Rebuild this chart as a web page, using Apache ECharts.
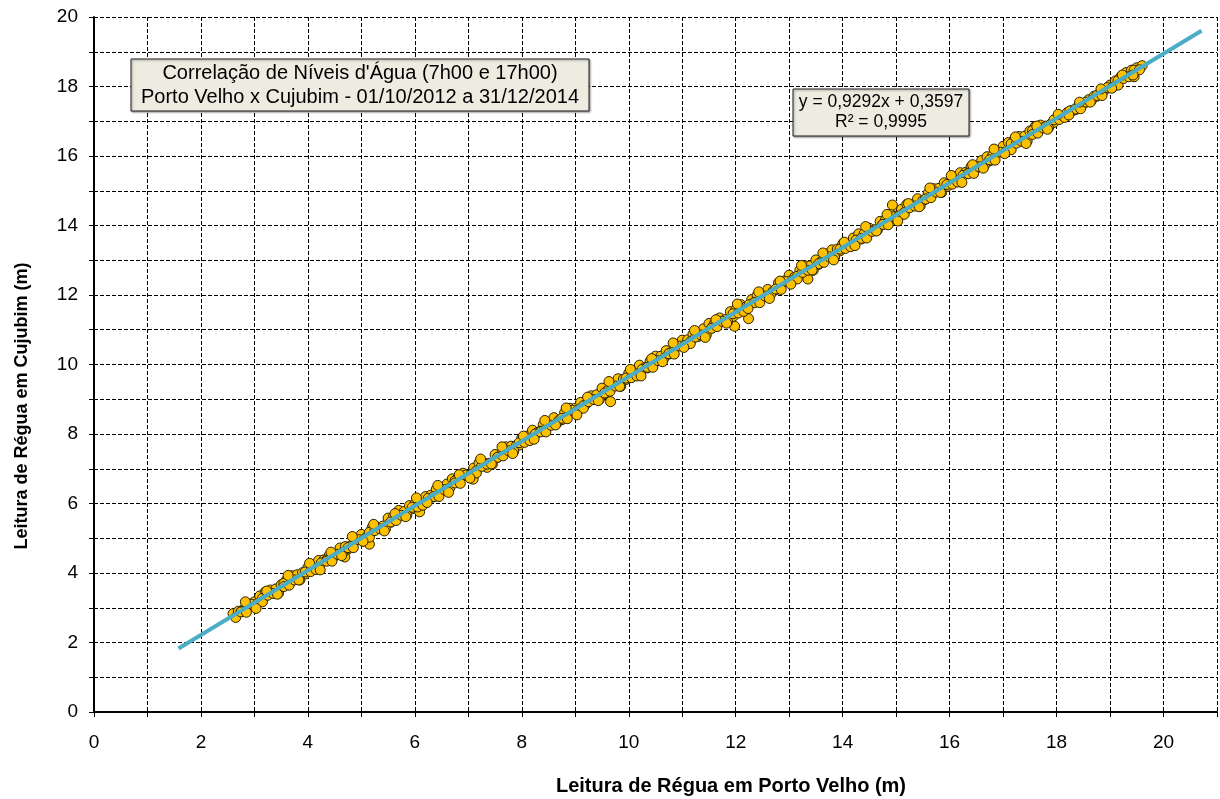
<!DOCTYPE html>
<html>
<head>
<meta charset="utf-8">
<script src="https://cdn.jsdelivr.net/npm/echarts@6/dist/echarts.min.js"></script>
<style>html,body{margin:0;padding:0;background:#fff}#chart{width:1220px;height:799px}</style>
</head>
<body>
<div id="chart"></div>
<script>
// Porto Velho readings (x) and Cujubim readings (y), metres
const portoVelho = [
2.6,2.7,2.8,2.9,3.0,3.1,3.2,3.3,3.4,3.5,
3.6,3.7,3.8,3.9,4.0,4.1,4.2,4.3,4.4,4.5,
4.6,4.7,4.8,4.9,5.0,5.1,5.2,5.3,5.4,5.5,
5.6,5.7,5.8,5.9,6.0,6.1,6.2,6.3,6.4,6.5,
6.6,6.7,6.8,6.9,7.0,7.1,7.2,7.3,7.4,7.5,
7.6,7.7,7.8,7.9,8.0,8.1,8.2,8.3,8.4,8.5,
8.6,8.7,8.8,8.9,9.0,9.1,9.2,9.3,9.4,9.5,
9.6,9.7,9.8,9.9,10.0,10.1,10.2,10.3,10.4,10.5,
10.6,10.7,10.8,10.9,11.0,11.1,11.2,11.3,11.4,11.5,
11.6,11.7,11.8,11.9,12.0,12.1,12.2,12.3,12.4,12.5,
12.6,12.7,12.8,12.9,13.0,13.1,13.2,13.3,13.4,13.5,
13.6,13.7,13.8,13.9,14.0,14.1,14.2,14.3,14.4,14.5,
14.6,14.7,14.8,14.9,15.0,15.1,15.2,15.3,15.4,15.5,
15.6,15.7,15.8,15.9,16.0,16.1,16.2,16.3,16.4,16.5,
16.6,16.7,16.8,16.9,17.0,17.1,17.2,17.3,17.4,17.5,
17.6,17.7,17.8,17.9,18.0,18.1,18.2,18.3,18.4,18.5,
18.6,18.7,18.8,18.9,19.0,19.1,19.2,19.3,19.4,19.5,
19.6,
2.75,3.15,3.55,3.95,4.35,4.75,5.15,5.55,5.95,6.35,
6.75,7.15,7.35,7.55,7.95,8.35,8.75,9.15,9.55,9.95,
10.35,10.75,11.15,11.55,11.95,12.35,12.75,13.15,13.55,13.95,
14.35,14.75,15.15,15.55,15.95,16.35,16.75,17.15,17.55,17.95,
18.35,18.75,19.15,19.45,
9.66,11.98,13.35,12.24,5.15,7.09,4.69,6.09,14.93,
2.65,2.75,2.85,2.95,3.05,3.15,3.25,3.35,3.45,3.55,
3.65,3.75,3.85,3.95,4.05,4.15,4.25,4.35,4.45,4.55,
4.65,4.75,4.85,4.95,5.05,5.15,5.25,5.35,5.45,5.55,
5.65,5.75,5.85,5.95,6.05,6.15,6.25,6.35,6.45,6.55,
6.65,6.75,6.85,6.95,7.05,7.15,7.25,7.35,7.45,7.55,
7.65,7.75,7.85,7.95,8.05,8.15,8.25,8.35,8.45,8.55,
8.65,8.75,8.85,8.95,9.05,9.15,9.25,9.35,9.45,9.55,
9.65,9.75,9.85,9.95,10.05,10.15,10.25,10.35,10.45,10.55,
10.65,10.75,10.85,10.95,11.05,11.15,11.25,11.35,11.45,11.55,
11.65,11.75,11.85,11.95,12.05,12.15,12.25,12.35,12.45,12.55,
12.65,12.75,12.85,12.95,13.05,13.15,13.25,13.35,13.45,13.55,
13.65,13.75,13.85,13.95,14.05,14.15,14.25,14.35,14.45,14.55,
14.65,14.75,14.85,14.95,15.05,15.15,15.25,15.35,15.45,15.55,
15.65,15.75,15.85,15.95,16.05,16.15,16.25,16.35,16.45,16.55,
16.65,16.75,16.85,16.95,17.05,17.15,17.25,17.35,17.45,17.55,
17.65,17.75,17.85,17.95,18.05,18.15,18.25,18.35,18.45,18.55,
18.65,18.75,18.85,18.95,19.05,19.15,19.25,19.35,19.45,19.55,
2.83,3.03,3.23,3.43,3.63,3.83,4.03,4.23,4.43,4.63,
4.83,5.03,5.23,5.43,5.63,5.83,6.03,6.23,6.43,6.63,
6.83,7.03,7.23,7.43,7.63,7.83,8.03,8.23,8.43,8.63,
8.83,9.03,9.23,9.43,9.63,9.83,10.03,10.23,10.43,10.63,
10.83,11.03,11.23,11.43,11.63,11.83,12.03,12.23,12.43,12.63,
12.83,13.03,13.23,13.43,13.63,13.83,14.03,14.23,14.43,14.63,
14.83,15.03,15.23,15.43,15.63,15.83,16.03,16.23,16.43,16.63,
16.83,17.03,17.23,17.43,17.63,17.83,18.03,18.23,18.43,18.63,
18.83,19.03,19.23,19.43
];
const cujubim = [
2.83,2.90,2.96,3.11,3.17,3.34,3.45,3.51,3.54,3.66,
3.80,3.92,3.95,4.01,4.16,4.22,4.36,4.38,4.51,4.49,
4.72,4.76,4.78,4.98,5.11,5.04,5.31,5.32,5.35,5.58,
5.62,5.80,5.77,5.94,5.99,6.01,6.20,6.24,6.41,6.36,
6.56,6.71,6.73,6.87,6.81,7.02,7.17,7.16,7.16,7.41,
7.38,7.63,7.65,7.67,7.88,7.94,8.11,8.05,8.27,8.30,
8.47,8.40,8.61,8.74,8.74,8.91,8.86,9.10,9.13,9.32,
9.25,9.45,9.59,9.58,9.75,9.81,9.98,9.91,10.10,10.24,
10.24,10.40,10.36,10.58,10.70,10.71,10.87,10.81,11.03,11.18,
11.17,11.34,11.29,11.52,11.57,11.72,11.67,11.87,11.99,12.00,
12.16,12.11,12.35,12.40,12.57,12.51,12.71,12.84,12.84,13.01,
12.96,13.18,13.30,13.32,13.47,13.42,13.64,13.76,13.76,13.92,
13.88,14.12,14.16,14.33,14.27,14.47,14.61,14.61,14.77,14.72,
14.93,15.06,15.07,15.23,15.20,15.40,15.52,15.53,15.69,15.65,
15.87,15.98,16.00,16.14,16.28,16.39,16.44,16.56,16.57,16.72,
16.85,16.89,16.86,16.93,17.06,17.13,17.25,17.31,17.42,17.50,
17.62,17.72,17.79,17.90,18.04,18.16,18.28,18.40,18.47,18.54,
18.60,
2.89,3.27,3.70,3.97,4.37,4.69,5.17,5.46,5.85,6.19,
6.65,6.94,7.04,7.33,7.68,8.08,8.41,8.81,9.16,9.57,
9.90,10.30,10.65,11.05,11.38,11.79,12.15,12.54,12.88,13.27,
13.61,14.03,14.37,14.76,15.12,15.51,15.86,16.35,16.73,16.97,
17.33,17.72,18.17,18.47,
8.93,11.10,12.46,11.32,4.83,6.70,4.46,5.76,14.59,
2.72,2.88,2.87,3.10,3.11,3.17,3.36,3.41,3.42,3.61,
3.65,3.80,3.80,4.03,4.04,4.10,4.29,4.34,4.34,4.54,
4.58,4.73,4.73,4.96,4.97,5.03,5.22,5.27,5.27,5.47,
5.51,5.66,5.66,5.89,5.90,5.95,6.15,6.20,6.20,6.40,
6.44,6.59,6.58,6.82,6.83,6.88,7.07,7.13,7.13,7.33,
7.37,7.52,7.51,7.75,7.76,7.81,8.00,8.06,8.06,8.25,
8.30,8.45,8.44,8.68,8.69,8.74,8.93,8.99,8.99,9.18,
9.23,9.38,9.37,9.61,9.62,9.67,9.86,9.92,9.92,10.11,
10.16,10.31,10.30,10.53,10.55,10.60,10.79,10.85,10.85,11.04,
11.09,11.24,11.23,11.46,11.48,11.53,11.72,11.78,11.78,11.97,
12.01,12.17,12.16,12.39,12.41,12.46,12.65,12.71,12.71,12.90,
12.94,13.10,13.09,13.32,13.34,13.39,13.58,13.63,13.64,13.83,
13.87,14.03,14.02,14.25,14.27,14.32,14.51,14.56,14.57,14.76,
14.80,14.96,14.95,15.18,15.19,15.25,15.44,15.49,15.50,15.69,
15.73,15.89,15.88,16.11,16.12,16.18,16.37,16.42,16.43,16.62,
16.66,16.81,16.81,17.04,17.05,17.11,17.30,17.35,17.36,17.55,
17.59,17.74,17.74,17.97,17.98,18.04,18.23,18.28,18.28,18.48,
3.17,2.98,3.48,3.39,3.93,3.80,4.28,4.09,4.60,4.50,
5.05,4.91,5.40,5.21,5.71,5.62,6.16,6.03,6.52,6.32,
6.83,6.73,7.28,7.14,7.63,7.44,7.94,7.85,8.39,8.26,
8.75,8.55,9.06,8.96,9.51,9.37,9.86,9.67,10.17,10.08,
10.62,10.49,10.98,10.78,11.29,11.19,11.74,11.61,12.09,11.90,
12.40,12.31,12.85,12.72,13.21,13.01,13.52,13.42,13.97,13.84,
14.32,14.13,14.63,14.54,15.08,14.95,15.44,15.24,15.75,15.65,
16.20,16.07,16.55,16.36,16.86,16.77,17.20,17.18,17.55,17.55,
17.93,17.95,18.33,18.33
];
// Linear trend line endpoints (y = 0,9292x + 0,3597)
const trendX = [1.58, 20.71];
const trendY = [1.828, 19.604];
const titleLines = ["Correlação de Níveis d'Água (7h00 e 17h00)", "Porto Velho x Cujubim - 01/10/2012 a 31/12/2014"];
const equationLines = ["y = 0,9292x + 0,3597", "R² = 0,9995"];
const xAxisTitle = "Leitura de Régua em Porto Velho (m)";
const yAxisTitle = "Leitura de Régua em Cujubim (m)";

const chart = echarts.init(document.getElementById('chart'), null, {renderer: 'canvas'});
const FONT = 'Liberation Sans, Arial, sans-serif';
const grid = {left: 94, top: 17, width: 1129, height: 695};
const scatterData = portoVelho.map((x, i) => [x, cujubim[i]]);
const trendData = trendX.map((x, i) => [x, trendY[i]]);
const dashed = {type: [4, 2], color: '#000', width: 1};

chart.setOption({
  animation: false,
  backgroundColor: '#fff',
  grid: grid,
  xAxis: {
    type: 'value', min: 0, max: 21, interval: 1,
    axisLine: {show: true, onZero: false, lineStyle: {color: '#000', width: 2}},
    axisTick: {show: true, length: 5, lineStyle: {color: '#000', width: 1}},
    axisLabel: {margin: 21, color: '#000', fontSize: 19, fontFamily: FONT,
      formatter: v => (v % 2 === 0 && v <= 20) ? String(v) : ''},
    splitLine: {show: true, lineStyle: dashed}
  },
  yAxis: {
    type: 'value', min: 0, max: 20, interval: 1,
    axisLine: {show: true, onZero: false, lineStyle: {color: '#000', width: 2}},
    axisTick: {show: true, length: 5, lineStyle: {color: '#000', width: 1}},
    axisLabel: {margin: 16, color: '#000', fontSize: 19, fontFamily: FONT,
      formatter: v => (v % 2 === 0) ? String(v) : ''},
    splitLine: {show: true, lineStyle: dashed}
  },
  series: [
    {
      type: 'scatter', data: scatterData, symbol: 'circle', symbolSize: 10,
      itemStyle: {color: '#FFC000', borderColor: '#2a2200', borderWidth: 1, opacity: 1},
      z: 2
    },
    {
      type: 'line', data: trendData, symbol: 'none', showSymbol: false,
      lineStyle: {color: '#4BACC6', width: 4},
      z: 3
    }
  ],
  graphic: [
    {
      type: 'text', x: 731, y: 786,
      style: {text: xAxisTitle, font: 'bold 20px ' + FONT, fill: '#000', textAlign: 'center', textVerticalAlign: 'middle'}
    },
    {
      type: 'text', x: 22, y: 406, rotation: Math.PI / 2,
      style: {text: yAxisTitle, font: 'bold 18px ' + FONT, fill: '#000', textAlign: 'center', textVerticalAlign: 'middle'}
    },
    {
      type: 'rect', shape: {x: 131, y: 59, width: 458, height: 52},
      style: {fill: '#EEECE1', stroke: '#222', lineWidth: 1, shadowBlur: 2, shadowOffsetX: 1, shadowOffsetY: 1, shadowColor: 'rgba(0,0,0,0.4)'},
      z: 10
    },
    {
      type: 'text', x: 360, y: 85, z: 11,
      style: {text: titleLines.join('\n'), font: '20px ' + FONT, fill: '#000', textAlign: 'center', textVerticalAlign: 'middle', lineHeight: 24}
    },
    {
      type: 'rect', shape: {x: 793, y: 89, width: 176, height: 47},
      style: {fill: '#EEECE1', stroke: '#222', lineWidth: 1, shadowBlur: 2, shadowOffsetX: 1, shadowOffsetY: 1, shadowColor: 'rgba(0,0,0,0.4)'},
      z: 10
    },
    {
      type: 'text', x: 881, y: 112, z: 11,
      style: {text: equationLines.join('\n'), font: '17.5px ' + FONT, fill: '#000', textAlign: 'center', textVerticalAlign: 'middle', lineHeight: 20}
    }
  ]
});
</script>
</body>
</html>
